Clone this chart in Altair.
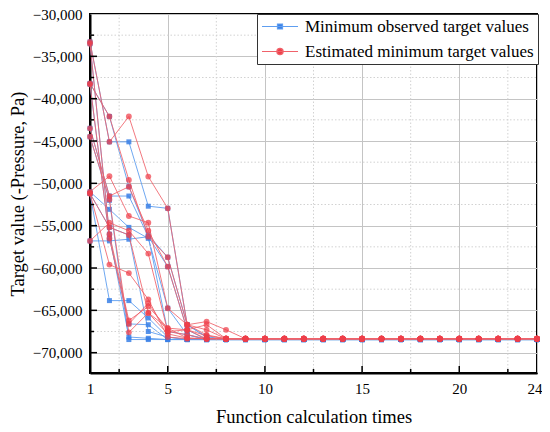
import altair as alt
import pandas as pd

SERIF = "Liberation Serif"

# ---------------- data ----------------
FUNC_TIMES = [1, 2, 3, 4, 5, 6, 7, 8, 9, 10, 11, 12, 13, 14, 15, 16, 17, 18, 19, 20, 21, 22, 23, 24]

SERIES = ["Minimum observed target values", "Estimated minimum target values"]

OBS = [
    [-33300, -45100, -45100, -52700, -52950, -66700, -68100, -68450, -68450,
     -68450, -68450, -68450, -68450, -68450, -68450, -68450, -68450, -68450, -68450, -68450, -68450, -68450, -68450, -68450],
    [-38200, -42100, -50400, -56100, -58730, -66700, -68200, -68450, -68450,
     -68450, -68450, -68450, -68450, -68450, -68450, -68450, -68450, -68450, -68450, -68450, -68450, -68450, -68450, -68450],
    [-43500, -51500, -51500, -56300, -59840, -67300, -68450, -68450, -68450,
     -68450, -68450, -68450, -68450, -68450, -68450, -68450, -68450, -68450, -68450, -68450, -68450, -68450, -68450, -68450],
    [-51000, -53070, -55200, -56500, -64750, -67880, -68450, -68450, -68450,
     -68450, -68450, -68450, -68450, -68450, -68450, -68450, -68450, -68450, -68450, -68450, -68450, -68450, -68450, -68450],
    [-56800, -56800, -56600, -56300, -67500, -67880, -68450, -68450, -68450,
     -68450, -68450, -68450, -68450, -68450, -68450, -68450, -68450, -68450, -68450, -68450, -68450, -68450, -68450, -68450],
    [-51200, -63850, -63850, -65900, -68160, -68450, -68450, -68450, -68450,
     -68450, -68450, -68450, -68450, -68450, -68450, -68450, -68450, -68450, -68450, -68450, -68450, -68450, -68450, -68450],
    [-33500, -56000, -68150, -68300, -68450, -68450, -68450, -68450, -68450,
     -68450, -68450, -68450, -68450, -68450, -68450, -68450, -68450, -68450, -68450, -68450, -68450, -68450, -68450, -68450],
    [-44500, -52000, -68450, -68450, -68450, -68450, -68450, -68450, -68450,
     -68450, -68450, -68450, -68450, -68450, -68450, -68450, -68450, -68450, -68450, -68450, -68450, -68450, -68450, -68450],
    [-38300, -56500, -66600, -66700, -68450, -68450, -68450, -68450, -68450,
     -68450, -68450, -68450, -68450, -68450, -68450, -68450, -68450, -68450, -68450, -68450, -68450, -68450, -68450, -68450],
    [-51200, -55200, -56100, -67500, -68160, -68450, -68450, -68450, -68450,
     -68450, -68450, -68450, -68450, -68450, -68450, -68450, -68450, -68450, -68450, -68450, -68450, -68450, -68450, -68450],
]

EST = [
    [-33300, -45100, -42100, -49200, -52950, -66700, -67900, -68350, -68350,
     -68350, -68350, -68350, -68350, -68350, -68350, -68350, -68350, -68350, -68350, -68350, -68350, -68350, -68350, -68350],
    [-38200, -42100, -49600, -56300, -58730, -66700, -67300, -68350, -68350,
     -68350, -68350, -68350, -68350, -68350, -68350, -68350, -68350, -68350, -68350, -68350, -68350, -68350, -68350, -68350],
    [-43500, -51500, -50400, -55600, -59840, -67300, -68350, -68350, -68350,
     -68350, -68350, -68350, -68350, -68350, -68350, -68350, -68350, -68350, -68350, -68350, -68350, -68350, -68350, -68350],
    [-51000, -49150, -53860, -54650, -64750, -66700, -66330, -67300, -68350,
     -68350, -68350, -68350, -68350, -68350, -68350, -68350, -68350, -68350, -68350, -68350, -68350, -68350, -68350, -68350],
    [-56800, -54650, -55600, -58300, -67500, -67880, -68350, -68350, -68350,
     -68350, -68350, -68350, -68350, -68350, -68350, -68350, -68350, -68350, -68350, -68350, -68350, -68350, -68350, -68350],
    [-51200, -59600, -60600, -63700, -68160, -68350, -68350, -68350, -68350,
     -68350, -68350, -68350, -68350, -68350, -68350, -68350, -68350, -68350, -68350, -68350, -68350, -68350, -68350, -68350],
    [-33500, -56000, -66200, -64550, -67100, -68280, -68350, -68350, -68350,
     -68350, -68350, -68350, -68350, -68350, -68350, -68350, -68350, -68350, -68350, -68350, -68350, -68350, -68350, -68350],
    [-44500, -51900, -67600, -65300, -67780, -68280, -68350, -68350, -68350,
     -68350, -68350, -68350, -68350, -68350, -68350, -68350, -68350, -68350, -68350, -68350, -68350, -68350, -68350, -68350],
    [-38300, -56500, -66600, -64150, -67500, -67300, -66700, -68350, -68350,
     -68350, -68350, -68350, -68350, -68350, -68350, -68350, -68350, -68350, -68350, -68350, -68350, -68350, -68350, -68350],
    [-51200, -55200, -56100, -65300, -67100, -67300, -68000, -68350, -68350,
     -68350, -68350, -68350, -68350, -68350, -68350, -68350, -68350, -68350, -68350, -68350, -68350, -68350, -68350, -68350],
]

X_LABEL_VALUES = [1, 5, 10, 15, 20, 24]
X_MAJOR = [5, 10, 15, 20]
X_MINOR = [2.5, 7.5, 12.5, 17.5, 22.5]
Y_LABEL_VALUES = [-30000, -35000, -40000, -45000, -50000, -55000, -60000, -65000, -70000]
Y_MAJOR = [-35000, -40000, -45000, -50000, -55000, -60000, -65000, -70000]
Y_MINOR = [-32500, -37500, -42500, -47500, -52500, -57500, -62500, -67500]

# ---------------- styling ----------------
W, H = 447, 359
PT_BLUE, PT_RED = "#3a80e6", "#ee3f49"
LN_BLUE, LN_RED = "#5f9ef0", "#f0626a"
SYM_SQ = "M-3,0H3M-0.42,-0.42H0.42V0.42H-0.42Z"
SYM_CI = "M-3,0H3M0.52,0A0.52,0.52,0,1,1,-0.52,0A0.52,0.52,0,1,1,0.52,0Z"


def to_long(runs, name):
    rows = []
    for r, vals in enumerate(runs, start=1):
        for x, v in zip(FUNC_TIMES, vals):
            rows.append({"run": r, "series": name, "x": x, "y": v})
    return pd.DataFrame(rows)


df_obs = to_long(OBS, SERIES[0])
df_est = to_long(EST, SERIES[1])

xs = alt.Scale(domain=[1, 24], nice=False, zero=False)
ys = alt.Scale(domain=[-72400, -30000], nice=False, zero=False)

x_axis = alt.Axis(
    values=X_LABEL_VALUES, format="d", title="Function calculation times",
    grid=True, gridColor="#c4c4c4", gridWidth=1, ticks=False,
    domain=True, domainColor="black", domainWidth=2,
    labelFont=SERIF, labelFontSize=15, labelColor="black", labelPadding=8,
    labelFlush=False, labelOverlap=False,
    labelAlign={"condition": {"test": "datum.value == 24", "value": "right"}, "value": "center"},
    labelOffset={"condition": {"test": "datum.value == 24", "value": 5}, "value": 0},
    titleFont=SERIF, titleFontSize=18.5, titleFontWeight="normal", titleColor="black",
    titlePadding=11,
)
y_axis = alt.Axis(
    values=Y_LABEL_VALUES, format=",.0f", title="Target value (-Pressure, Pa)",
    grid=True, gridColor="#c4c4c4", gridWidth=1, ticks=False,
    domain=True, domainColor="black", domainWidth=2,
    labelFont=SERIF, labelFontSize=15, labelColor="black", labelPadding=8,
    labelFlush=False, labelOverlap=False,
    titleFont=SERIF, titleFontSize=18.5, titleFontWeight="normal", titleColor="black",
    titlePadding=5,
)

X_ENC = alt.X("x:Q", scale=xs, axis=x_axis)
Y_ENC = alt.Y("y:Q", scale=ys, axis=y_axis)

# minor dotted grid
grid_x_minor = alt.Chart(pd.DataFrame({"x": X_MINOR})).mark_rule(
    color="#d2d2d2", strokeWidth=1, strokeDash=[1.5, 2]
).encode(x=X_ENC, y=alt.value(0), y2=alt.value(H))
grid_y_minor = alt.Chart(pd.DataFrame({"y": Y_MINOR})).mark_rule(
    color="#d2d2d2", strokeWidth=1, strokeDash=[1.5, 2]
).encode(y=Y_ENC, x=alt.value(0), x2=alt.value(W))

# data layers
line_obs = alt.Chart(df_obs).mark_line(color=LN_BLUE, strokeWidth=1, opacity=0.9, clip=False).encode(
    x=X_ENC, y=Y_ENC, detail="run:N")
pts_obs = alt.Chart(df_obs).mark_square(color=PT_BLUE, size=25, opacity=0.85, clip=False).encode(
    x=X_ENC, y=Y_ENC)
line_est = alt.Chart(df_est).mark_line(color=LN_RED, strokeWidth=1, opacity=0.85, clip=False).encode(
    x=X_ENC, y=Y_ENC, detail="run:N")
pts_est = alt.Chart(df_est).mark_circle(color=PT_RED, size=34, opacity=0.72, clip=False).encode(
    x=X_ENC, y=Y_ENC)

# inward ticks
tick_x_major = alt.Chart(pd.DataFrame({"x": X_MAJOR})).mark_rule(color="black", strokeWidth=1.5).encode(
    x=X_ENC, y=alt.value(H), y2=alt.value(H - 7))
tick_x_minor = alt.Chart(pd.DataFrame({"x": X_MINOR})).mark_rule(color="black", strokeWidth=1.5).encode(
    x=X_ENC, y=alt.value(H), y2=alt.value(H - 4))
tick_y_major = alt.Chart(pd.DataFrame({"y": Y_MAJOR})).mark_rule(color="black", strokeWidth=1.5).encode(
    y=Y_ENC, x=alt.value(0), x2=alt.value(7))
tick_y_minor = alt.Chart(pd.DataFrame({"y": Y_MINOR})).mark_rule(color="black", strokeWidth=1.5).encode(
    y=Y_ENC, x=alt.value(0), x2=alt.value(4))

# legend (drawn from the series names only)
leg = alt.Legend(
    title=None, orient="none", legendX=167, legendY=0, direction="vertical",
    labelFont=SERIF, labelFontSize=17, labelColor="black", labelLimit=400,
    symbolSize=144, symbolStrokeWidth=1.2, symbolOffset=10.5, labelOffset=16.5,
    padding=4, rowPadding=7, strokeColor="#333333", fillColor="white", cornerRadius=0,
)
legend_layer = alt.Chart(pd.DataFrame({"series": SERIES})).mark_point(
    filled=True, opacity=1, strokeWidth=1.2
).encode(
    fill=alt.Fill("series:N", scale=alt.Scale(domain=SERIES, range=[PT_BLUE, PT_RED]), legend=leg),
    stroke=alt.Stroke("series:N", scale=alt.Scale(domain=SERIES, range=[LN_BLUE, LN_RED]), legend=leg),
    shape=alt.Shape("series:N", scale=alt.Scale(domain=SERIES, range=[SYM_SQ, SYM_CI]), legend=leg),
).transform_filter("false")

chart = alt.layer(
    line_obs, grid_x_minor, grid_y_minor, pts_obs, line_est, pts_est,
    tick_x_major, tick_x_minor, tick_y_major, tick_y_minor, legend_layer,
).properties(
    width=W, height=H,
    autosize=alt.AutoSizeParams(type="none"),
    padding={"left": 82, "top": 6, "right": 5, "bottom": 58},
).configure_view(stroke="black", strokeWidth=2)

chart.save("out.html", embed_options={"renderer": "svg", "actions": False})
